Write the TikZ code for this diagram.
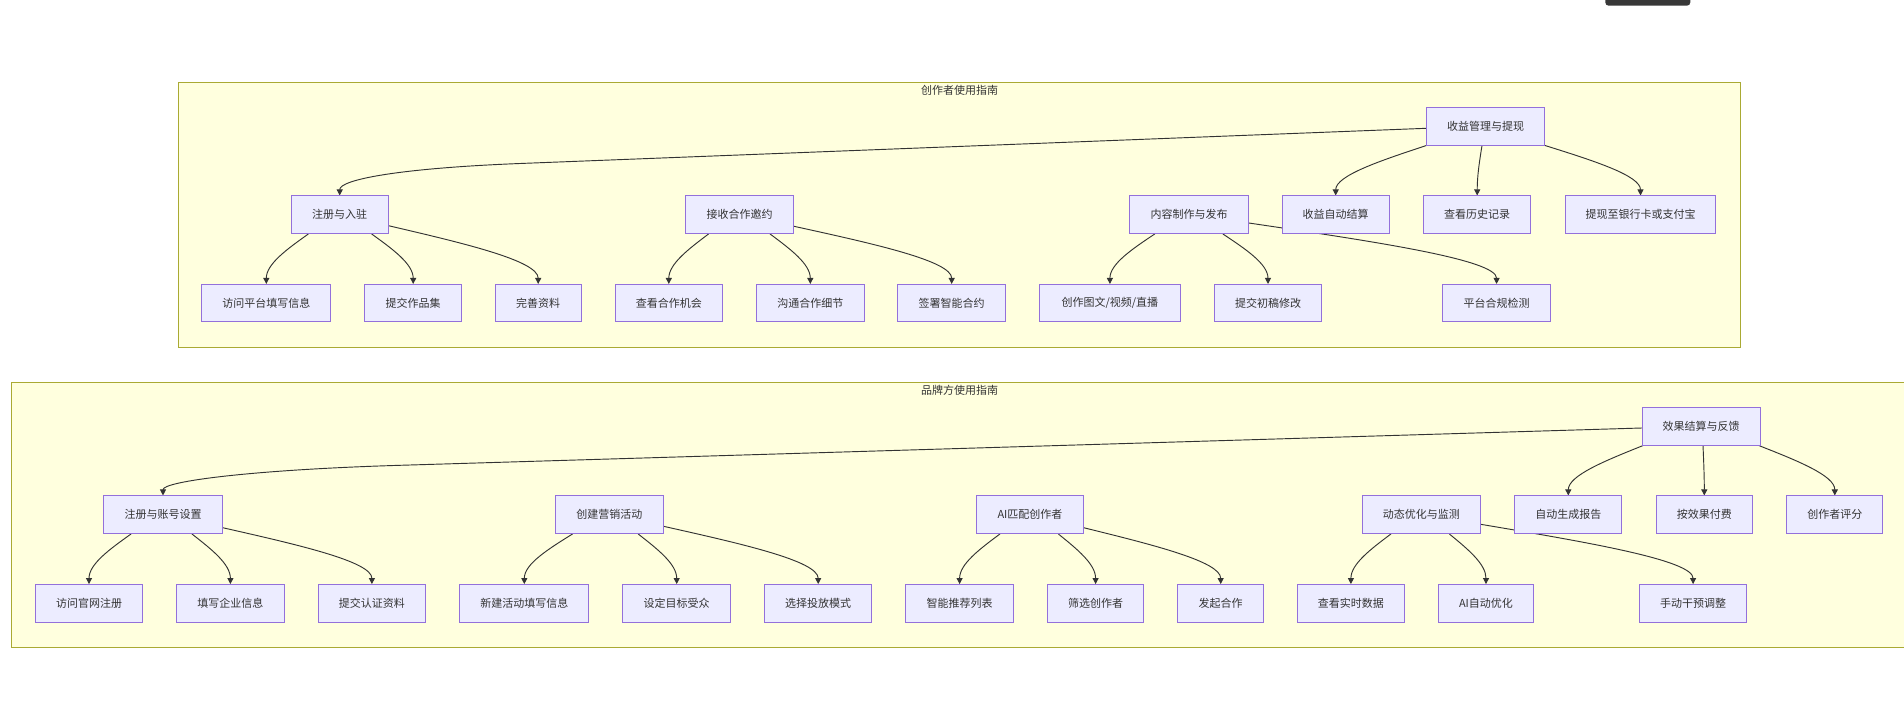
\documentclass[tikz,border=0pt]{standalone}
\usepackage{fontspec}
\setmainfont{Noto Sans CJK SC}
\usetikzlibrary{calc,arrows.meta}
\definecolor{boxfill}{HTML}{ECECFF}
\definecolor{boxline}{HTML}{9370DB}
\definecolor{clfill}{HTML}{FFFFDE}
\definecolor{clline}{HTML}{AAAA33}
\definecolor{edgecol}{HTML}{333333}
\definecolor{txtcol}{HTML}{333333}
\definecolor{darkbar}{HTML}{383838}
\pgfdeclarelayer{frames}
\pgfdeclarelayer{edges}
\pgfsetlayers{frames,edges,main}
\tikzset{
  box/.style={draw=boxline, fill=boxfill, line width=0.75pt, minimum height=28.1pt,
    inner sep=0pt, text=txtcol, font=\fontsize{8.25pt}{10pt}\selectfont},
  cluster/.style={draw=clline, fill=clfill, line width=0.75pt},
  cltitle/.style={text=txtcol, font=\fontsize{8.25pt}{10pt}\selectfont, inner sep=0pt},
  edge/.style={draw=edgecol, line width=0.7pt, -{Triangle[length=4.5pt,width=4.5pt]}}
}
\newcommand\myedge[2]{%
  \draw[edge] let \p1=(#1), \p2=(#2) in (\p1) .. controls ({\x1+0.5*(\x2-\x1)},{\y1+0.3*(\y2-\y1)}) and ({\x2},{\y2-0.4*(\y2-\y1)}) .. (\p2);}
\begin{document}
\begin{tikzpicture}[x=0.75pt,y=-0.75pt]
\useasboundingbox (0,0) rectangle (1904,721);

% clusters
\begin{pgfonlayer}{frames}
\fill[white] (0,0) rectangle (1904,721);
\fill[darkbar, rounded corners=2.5] (1605.3,-6) rectangle (1690.3,5.7);
\draw[cluster] (178.5,82) rectangle (1740.7,347.5);
\draw[cluster] (11,382) rectangle (1912,647.3);
\end{pgfonlayer}
\node[cltitle] (t1) at (959.5,90) {创作者使用指南};
\node[cltitle] (t2) at (959.5,390) {品牌方使用指南};

% top cluster nodes
\node[box, minimum width=88.4pt] (c0) at (1485.7,126.3) {收益管理与提现};
\node[box, minimum width=72.5pt] (c1) at (339.7,214.7) {注册与入驻};
\node[box, minimum width=81pt] (c2) at (739.5,214.7) {接收合作邀约};
\node[box, minimum width=88.8pt] (c3) at (1189.1,214.7) {内容制作与发布};
\node[box, minimum width=80.3pt] (c4) at (1335.7,214.7) {收益自动结算};
\node[box, minimum width=80.1pt] (c5) at (1477.2,214.7) {查看历史记录};
\node[box, minimum width=113pt] (c6) at (1640.5,214.7) {提现至银行卡或支付宝};
\node[box, minimum width=97pt] (c11) at (266.3,303.2) {访问平台填写信息};
\node[box, minimum width=72.4pt] (c12) at (413.2,303.2) {提交作品集};
\node[box, minimum width=64.2pt] (c13) at (538.2,303.2) {完善资料};
\node[box, minimum width=80.6pt] (c21) at (668.8,303.2) {查看合作机会};
\node[box, minimum width=80.6pt] (c22) at (810.3,303.2) {沟通合作细节};
\node[box, minimum width=80.6pt] (c23) at (951.7,303.2) {签署智能合约};
\node[box, minimum width=105.7pt] (c31) at (1109.9,303.2) {创作图文/视频/直播};
\node[box, minimum width=80.6pt] (c32) at (1268,303.2) {提交初稿修改};
\node[box, minimum width=81pt] (c33) at (1496.6,303.2) {平台合规检测};

% bottom cluster nodes
\node[box, minimum width=88.4pt] (b0) at (1701.2,426.3) {效果结算与反馈};
\node[box, minimum width=88.8pt] (b1) at (163,514.7) {注册与账号设置};
\node[box, minimum width=80.6pt] (b2) at (609.3,514.7) {创建营销活动};
\node[box, minimum width=79.7pt] (b3) at (1030,514.7) {AI匹配创作者};
\node[box, minimum width=88.4pt] (b4) at (1421.3,514.7) {动态优化与监测};
\node[box, minimum width=80.3pt] (b5) at (1568.3,514.7) {自动生成报告};
\node[box, minimum width=72pt] (b6) at (1704.3,514.7) {按效果付费};
\node[box, minimum width=72pt] (b7) at (1834.8,514.7) {创作者评分};
\node[box, minimum width=80.6pt] (b11) at (89,603.3) {访问官网注册};
\node[box, minimum width=80.6pt] (b12) at (230.4,603.3) {填写企业信息};
\node[box, minimum width=80.6pt] (b13) at (371.9,603.3) {提交认证资料};
\node[box, minimum width=97pt] (b21) at (524.3,603.3) {新建活动填写信息};
\node[box, minimum width=80.6pt] (b22) at (676.7,603.3) {设定目标受众};
\node[box, minimum width=80.6pt] (b23) at (818.2,603.3) {选择投放模式};
\node[box, minimum width=80.6pt] (b31) at (959.6,603.3) {智能推荐列表};
\node[box, minimum width=72.5pt] (b32) at (1095.6,603.3) {筛选创作者};
\node[box, minimum width=64.2pt] (b33) at (1220.7,603.3) {发起合作};
\node[box, minimum width=80.1pt] (b41) at (1350.9,603.3) {查看实时数据};
\node[box, minimum width=71.6pt] (b42) at (1486,603.3) {AI自动优化};
\node[box, minimum width=79.7pt] (b43) at (1693.1,603.3) {手动干预调整};

\begin{pgfonlayer}{edges}
% long edges
\coordinate (k1) at (520,163.5);
\draw[edge] ($(c0.west)+(0,2)$) -- (k1) .. controls (400,168.2) and ($(c1.north)+(0,-16)$) .. (c1.north);
\coordinate (k2) at (400,465.3);
\draw[edge] ($(b0.west)+(0,1.7)$) -- (k2) .. controls (250,469.8) and ($(b1.north)+(0,-14)$) .. (b1.north);
% top cluster
\myedge{c0.south west}{c4.north}
\myedge{$(c0.south)+(-3.7,0)$}{c5.north}
\myedge{c0.south east}{c6.north}
\myedge{$(c1.south)+(-31.3,0)$}{c11.north}
\myedge{$(c1.south)+(31.9,0)$}{c12.north}
\myedge{$(c1.east)+(0,11)$}{c13.north}
\myedge{$(c2.south)+(-30.9,0)$}{c21.north}
\myedge{$(c2.south)+(30.5,0)$}{c22.north}
\myedge{$(c2.east)+(0,11.6)$}{c23.north}
\myedge{$(c3.south)+(-34.3,0)$}{c31.north}
\myedge{$(c3.south)+(33.7,0)$}{c32.north}
\myedge{$(c3.east)+(0,8.3)$}{c33.north}
% bottom cluster
\myedge{$(b0.south west)+(1.3,0)$}{b5.north}
\myedge{$(b0.south)+(1.8,0)$}{b6.north}
\myedge{$(b0.south east)+(-1.8,0)$}{b7.north}
\myedge{$(b1.south)+(-31.9,0)$}{b11.north}
\myedge{$(b1.south)+(28.9,0)$}{b12.north}
\myedge{$(b1.east)+(0,13)$}{b13.north}
\myedge{$(b2.south)+(-36.7,0)$}{b21.north}
\myedge{$(b2.south)+(28.8,0)$}{b22.north}
\myedge{$(b2.east)+(0,11.6)$}{b23.north}
\myedge{$(b3.south)+(-30,0)$}{b31.north}
\myedge{$(b3.south)+(28.3,0)$}{b32.north}
\myedge{$(b3.east)+(0,13)$}{b33.north}
\myedge{$(b4.south)+(-30.3,0)$}{b41.north}
\myedge{$(b4.south)+(28,0)$}{b42.north}
\myedge{$(b4.east)+(0,9.6)$}{b43.north}
\end{pgfonlayer}
\end{tikzpicture}
\end{document}
